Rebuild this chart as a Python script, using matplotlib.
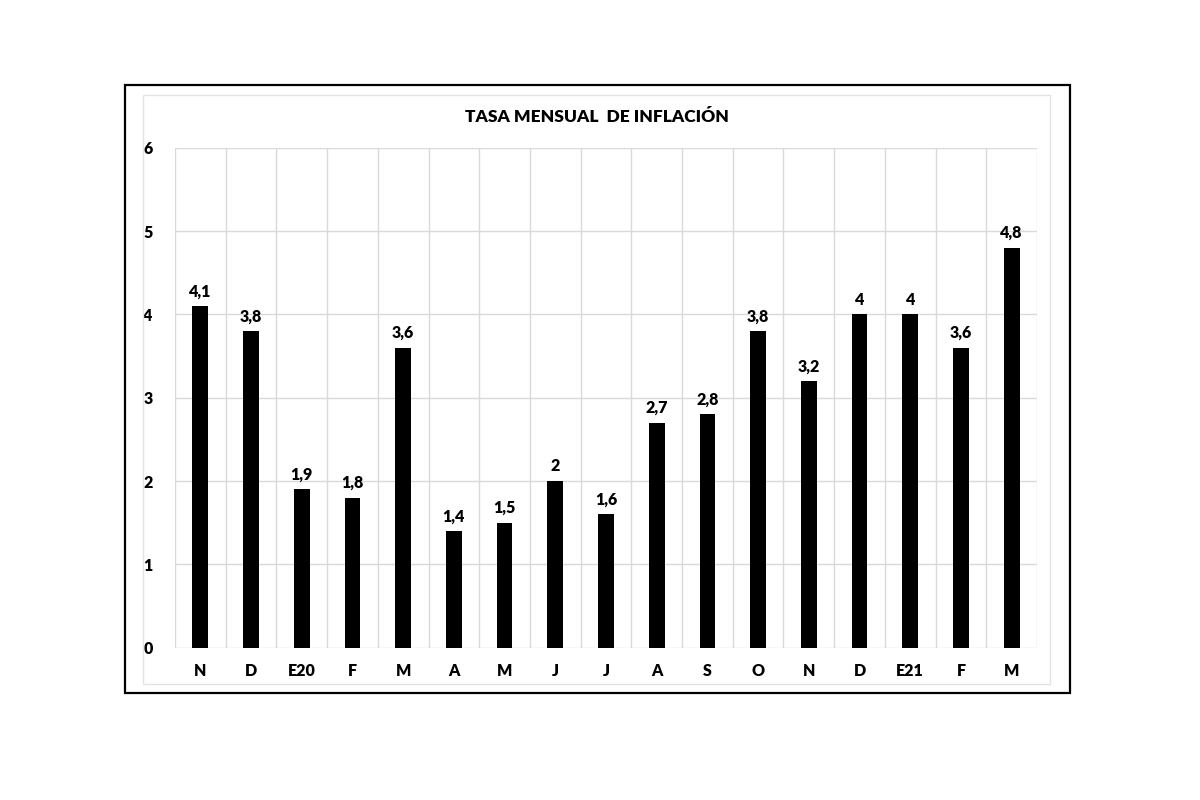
import matplotlib
matplotlib.use('Agg')
import matplotlib.pyplot as plt
from matplotlib.patches import Rectangle

months = ['N', 'D', 'E20', 'F', 'M', 'A', 'M', 'J', 'J', 'A', 'S', 'O', 'N', 'D', 'E21', 'F', 'M']
rates = [4.1, 3.8, 1.9, 1.8, 3.6, 1.4, 1.5, 2.0, 1.6, 2.7, 2.8, 3.8, 3.2, 4.0, 4.0, 3.6, 4.8]
title = 'TASA MENSUAL  DE INFLACIÓN'

plt.rcParams['font.family'] = ['Lato', 'DejaVu Sans']
WT = 'heavy'

fig = plt.figure(figsize=(12, 8), dpi=100)
W, H = 1200, 800

# outer black frame and light inner frame
fig.patches.append(Rectangle((125 / W, 1 - 693 / H), 945 / W, 608 / H, transform=fig.transFigure,
                             fill=False, ec='black', lw=1.6))
fig.patches.append(Rectangle((143 / W, 1 - 684 / H), 907 / W, 589 / H, transform=fig.transFigure,
                             fill=False, ec='#e3e3e3', lw=1))

ax = fig.add_axes([175 / W, 1 - 647.7 / H, 862 / W, 500 / H])
x = range(len(months))
ax.bar(x, rates, width=0.31, color='black', zorder=3)

for i, v in enumerate(rates):
    lab = f'{v:g}'.replace('.', ',')
    ax.text(i, v + 0.08, lab, ha='center', va='bottom', fontsize=11.5, fontweight=WT)

ax.set_xlim(-0.5, len(months) - 0.5)
ax.set_ylim(0, 6)
for y in range(7):
    ax.axhline(y, color='#d9d9d9', lw=1, zorder=1)
for b in range(len(months) + 1):
    ax.axvline(b - 0.5, color='#d9d9d9', lw=1, zorder=1)

for s in ax.spines.values():
    s.set_visible(False)
ax.set_yticks(range(7))
ax.set_xticks(list(x))
ax.set_xticklabels(months)
ax.tick_params(length=0, labelsize=11.5, pad=11)
ax.tick_params(axis='y', pad=16)
for t in ax.get_xticklabels() + ax.get_yticklabels():
    t.set_fontweight(WT)

fig.text(597 / W, 1 - 116.5 / H, title, ha='center', va='center', fontsize=12.5, fontweight=WT)

fig.savefig('out.png', dpi=100)
